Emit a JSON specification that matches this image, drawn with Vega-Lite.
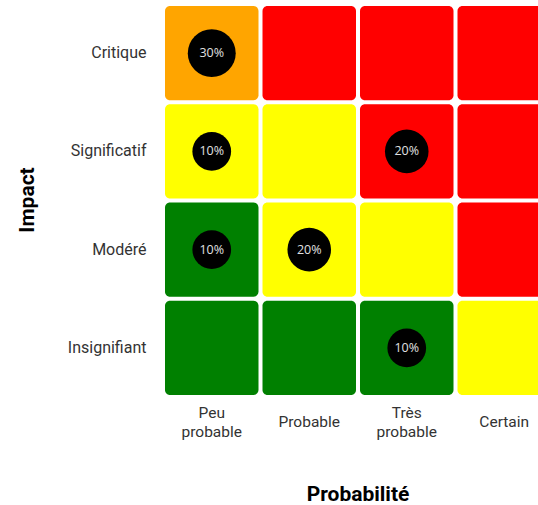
{
  "$schema": "https://vega.github.io/schema/vega-lite/v6.json",
  "autosize": {"type": "none"},
  "padding": {"left": 163, "top": 4, "right": 0, "bottom": 108},
  "width": 375,
  "height": 393,
  "background": "white",
  "config": {"view": {"stroke": null}},
  "data": {
    "values": [
      {"impact": "Critique", "proba": "Peu probable", "niveau": "Important", "pct": 0.3},
      {"impact": "Critique", "proba": "Probable", "niveau": "Élevé", "pct": null},
      {"impact": "Critique", "proba": "Très probable", "niveau": "Élevé", "pct": null},
      {"impact": "Critique", "proba": "Certain", "niveau": "Élevé", "pct": null},
      {"impact": "Significatif", "proba": "Peu probable", "niveau": "Moyen", "pct": 0.1},
      {"impact": "Significatif", "proba": "Probable", "niveau": "Moyen", "pct": null},
      {"impact": "Significatif", "proba": "Très probable", "niveau": "Élevé", "pct": 0.2},
      {"impact": "Significatif", "proba": "Certain", "niveau": "Élevé", "pct": null},
      {"impact": "Modéré", "proba": "Peu probable", "niveau": "Faible", "pct": 0.1},
      {"impact": "Modéré", "proba": "Probable", "niveau": "Moyen", "pct": 0.2},
      {"impact": "Modéré", "proba": "Très probable", "niveau": "Moyen", "pct": null},
      {"impact": "Modéré", "proba": "Certain", "niveau": "Élevé", "pct": null},
      {"impact": "Insignifiant", "proba": "Peu probable", "niveau": "Faible", "pct": null},
      {"impact": "Insignifiant", "proba": "Probable", "niveau": "Faible", "pct": null},
      {"impact": "Insignifiant", "proba": "Très probable", "niveau": "Faible", "pct": 0.1},
      {"impact": "Insignifiant", "proba": "Certain", "niveau": "Moyen", "pct": null}
    ]
  },
  "encoding": {
    "x": {
      "field": "proba",
      "type": "nominal",
      "sort": ["Peu probable", "Probable", "Très probable", "Certain"],
      "scale": {"range": [0, 390], "paddingInner": 0.041, "paddingOuter": 0.0205},
      "axis": {
        "orient": "bottom",
        "domain": false,
        "ticks": false,
        "tickSize": 0,
        "labelAngle": 0,
        "labelFont": "Roboto",
        "labelFontSize": 15.5,
        "labelColor": "#333333",
        "labelBaseline": "middle",
        "labelPadding": {"condition": {"test": "datum.value == 'Peu probable' || datum.value == 'Très probable'", "value": 15}, "value": 24},
        "labelLineHeight": 19,
        "labelExpr": "datum.label == 'Peu probable' ? ['Peu', 'probable'] : datum.label == 'Très probable' ? ['Très', 'probable'] : datum.label",
        "title": "Probabilité",
        "titleFont": "Roboto",
        "titleFontSize": 21,
        "titleFontWeight": "bold",
        "titleColor": "#000000",
        "titleX": 194.5,
        "titleY": 103,
        "titleBaseline": "alphabetic"
      }
    },
    "y": {
      "field": "impact",
      "type": "nominal",
      "sort": ["Critique", "Significatif", "Modéré", "Insignifiant"],
      "scale": {"paddingInner": 0.041, "paddingOuter": 0.0205},
      "axis": {
        "domain": false,
        "ticks": false,
        "tickSize": 0,
        "labelFont": "Roboto",
        "labelFontSize": 16,
        "labelColor": "#333333",
        "labelPadding": 17,
        "title": "Impact",
        "titleFont": "Roboto",
        "titleFontSize": 21,
        "titleFontWeight": "bold",
        "titleColor": "#000000",
        "titleX": -130,
        "titleY": 195.5,
        "titleBaseline": "alphabetic"
      }
    }
  },
  "layer": [
    {
      "mark": {"type": "rect", "cornerRadius": 5, "clip": true},
      "encoding": {
        "color": {
          "field": "niveau",
          "type": "nominal",
          "scale": {
            "domain": ["Faible", "Moyen", "Important", "Élevé"],
            "range": ["#008000", "#FFFF00", "#FFA500", "#FF0000"]
          },
          "legend": null
        }
      }
    },
    {
      "transform": [{"filter": "datum.pct != null"}],
      "mark": {"type": "circle", "color": "#000000", "opacity": 1},
      "encoding": {
        "size": {
          "field": "pct",
          "type": "quantitative",
          "scale": {"domain": [0.1, 0.3], "range": [1500, 2300]},
          "legend": null
        }
      }
    },
    {
      "transform": [{"filter": "datum.pct != null"}],
      "mark": {"type": "text", "font": "Open Sans", "fontSize": 12.5, "color": "#e0e0e0", "baseline": "middle", "align": "center"},
      "encoding": {
        "text": {"field": "pct", "type": "quantitative", "format": ".0%"}
      }
    }
  ]
}
